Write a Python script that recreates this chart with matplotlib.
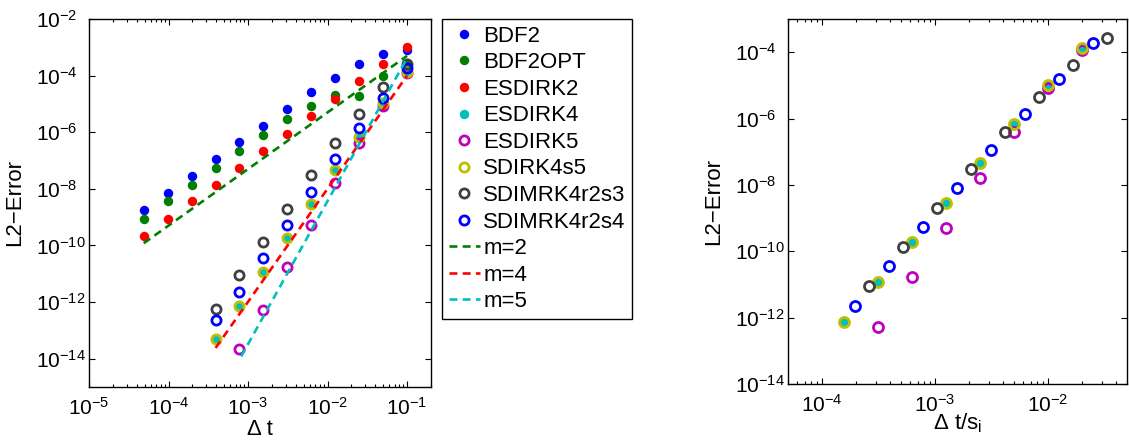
import matplotlib
matplotlib.use('Agg')
import matplotlib.pyplot as plt
from matplotlib.ticker import LogFormatterSciNotation, NullLocator, LogLocator

plt.rcParams['font.family'] = ['Liberation Sans', 'DejaVu Sans']
plt.rcParams['mathtext.fontset'] = 'custom'
plt.rcParams['mathtext.rm'] = 'Liberation Sans'
plt.rcParams['mathtext.it'] = 'Liberation Sans:italic'

# time step sizes (left plot x values)
dt = [4.88e-5, 9.77e-5, 1.95e-4, 3.91e-4, 7.81e-4, 1.56e-3, 3.13e-3,
      6.25e-3, 1.25e-2, 2.5e-2, 5e-2, 1e-1]
dt_4 = dt[3:]   # 4th order methods start at 3.9e-4
dt_5 = dt[4:]   # ESDIRK5 starts at 7.8e-4

bdf2 = [1.85e-9, 7e-9, 2.9e-8, 1.15e-7, 4.6e-7, 1.7e-6, 6.8e-6, 2.6e-5,
        8.5e-5, 2.6e-4, 5.9e-4, 7.8e-4]
bdf2opt = [8.9e-10, 3.6e-9, 1.4e-8, 5.5e-8, 2.1e-7, 8e-7, 2.9e-6, 8.7e-6,
           2.1e-5, 1.85e-5, 9.5e-5, 2.8e-4]
esdirk2 = [2.2e-10, 8.9e-10, 3.6e-9, 1.4e-8, 5.5e-8, 2.2e-7, 8.9e-7, 3.6e-6,
           1.5e-5, 6.3e-5, 2.6e-4, 1e-3]
esdirk4 = [5e-14, 7.7e-13, 1.2e-11, 1.9e-10, 3e-9, 4.8e-8, 7.2e-7, 1.1e-5, 1.4e-4]
sdirk4s5 = [5e-14, 7.5e-13, 1.15e-11, 1.85e-10, 2.9e-9, 4.6e-8, 7e-7, 1.05e-5, 1.3e-4]
esdirk5 = [2.2e-14, 5.3e-13, 1.7e-11, 5.1e-10, 1.6e-8, 4e-7, 8.3e-6, 1.2e-4]
sdimrk3 = [5.7e-13, 9e-12, 1.3e-10, 2e-9, 3e-8, 4e-7, 4.5e-6, 4e-5, 2.6e-4]
sdimrk4 = [2.4e-13, 2.3e-12, 3.6e-11, 5.3e-10, 7.8e-9, 1.1e-7, 1.4e-6, 1.6e-5, 1.9e-4]

# stage counts used for the right plot
stages = {'ESDIRK4': 5, 'ESDIRK5': 5, 'SDIRK4s5': 5,
          'SDIMRK4r2s3': 3, 'SDIMRK4r2s4': 4}

# reference slopes (endpoints)
m2_x = [4.88e-5, 1e-1]
m2_y = [1.2e-10, 5e-4]
m4_x = [3.91e-4, 1e-1]
m4_y = [2.4e-14, 1e-4]
m5_x = [8.2e-4, 1e-1]
m5_y = [1.2e-14, 4.2e-4]

blue = (0, 0, 1)
green = (0, 0.5, 0)
red = (1, 0, 0)
cyan = (0, 0.75, 0.75)
magenta = (0.75, 0, 0.75)
yellow = (0.75, 0.75, 0)
gray = (0.25, 0.25, 0.25)

dot = dict(linestyle='none', marker='o', markersize=6.8, markeredgewidth=0)
ring = dict(linestyle='none', marker='o', markersize=6.6, markeredgewidth=2.0,
            markerfacecolor='none')
ring2 = dict(ring, markersize=7.2)
dash = dict(linewidth=1.9, linestyle=(0, (3, 2)))

fig = plt.figure(figsize=(11.29, 4.45), dpi=100)
ax1 = fig.add_axes([89 / 1129, 1 - 387 / 445, 342 / 1129, 368 / 445])
ax2 = fig.add_axes([788 / 1129, 1 - 384 / 445, 339 / 1129, 365 / 445])
for ax in (ax1, ax2):
    ax.set_xscale('log')
    ax.set_yscale('log')

ax1.plot(dt, bdf2, color=blue, label='BDF2', **dot)
ax1.plot(dt, bdf2opt, color=green, label='BDF2OPT', **dot)
ax1.plot(dt, esdirk2, color=red, label='ESDIRK2', **dot)
ax1.plot(dt_4, esdirk4, color=cyan, label='ESDIRK4', **dot)
ax1.plot(dt_5, esdirk5, color=magenta, label='ESDIRK5', **ring)
ax1.plot(dt_4, sdirk4s5, color=yellow, label='SDIRK4s5', **ring)
ax1.plot(dt_4, sdimrk3, color=gray, label='SDIMRK4r2s3', **ring)
ax1.plot(dt_4, sdimrk4, color=blue, label='SDIMRK4r2s4', **ring)
ax1.plot(m2_x, m2_y, color=green, label='m=2', **dash)
ax1.plot(m4_x, m4_y, color=red, label='m=4', **dash)
ax1.plot(m5_x, m5_y, color=cyan, label='m=5', **dash)

# right plot: step size scaled by number of stages, smallest step dropped
ax2.plot([d / stages['ESDIRK4'] for d in dt_4[1:]], esdirk4[1:], color=cyan, **dot)
ax2.plot([d / stages['ESDIRK5'] for d in dt_5[1:]], esdirk5[1:], color=magenta, **ring2)
ax2.plot([d / stages['SDIRK4s5'] for d in dt_4[1:]], sdirk4s5[1:], color=yellow, **ring2)
ax2.plot([d / stages['SDIMRK4r2s3'] for d in dt_4[1:]], sdimrk3[1:], color=gray, **ring2)
ax2.plot([d / stages['SDIMRK4r2s4'] for d in dt_4[1:]], sdimrk4[1:], color=blue, **ring2)

ax1.set_xlim(1e-5, 2e-1)
ax1.set_ylim(1e-15, 1e-2)
ax1.set_xticks([1e-5, 1e-4, 1e-3, 1e-2, 1e-1])
ax1.set_yticks([1e-14, 1e-12, 1e-10, 1e-8, 1e-6, 1e-4, 1e-2])
ax1.set_xlabel('\u0394 t', fontsize=16, labelpad=0)

ax2.set_xlim(5e-5, 5e-2)
ax2.set_ylim(1e-14, 1e-3)
ax2.set_xticks([1e-4, 1e-3, 1e-2])
ax2.set_yticks([1e-14, 1e-12, 1e-10, 1e-8, 1e-6, 1e-4])
ax2.set_xlabel('\u0394 t/s$_{\\mathregular{i}}$', fontsize=16, labelpad=-3)

for ax in (ax1, ax2):
    ax.yaxis.set_minor_locator(NullLocator())
    ax.xaxis.set_minor_locator(LogLocator(subs=range(2, 10), numticks=20))
    ax.xaxis.set_major_formatter(LogFormatterSciNotation())
    ax.yaxis.set_major_formatter(LogFormatterSciNotation())
    ax.tick_params(which='both', direction='in', top=True, right=True,
                   labelsize=15, width=0.8)
    ax.tick_params(which='major', length=4)
    ax.tick_params(axis='x', which='major', pad=7)
    ax.tick_params(axis='y', which='major', pad=38)
    ax.tick_params(which='minor', length=2)
    plt.setp(ax.get_yticklabels(), ha='left')
    for s in ax.spines.values():
        s.set_linewidth(1.0)
    ax.set_ylabel('L2\u2212Error', fontsize=16)
    ax.yaxis.set_label_coords(-0.187, 0.5)

leg = ax1.legend(loc='upper left', bbox_to_anchor=(442 / 1129, 1 - 19 / 445),
                 bbox_transform=fig.transFigure, borderaxespad=0,
                 fontsize=16, handlelength=1.4, handletextpad=0.15,
                 labelspacing=0.25, borderpad=0.3, fancybox=False,
                 edgecolor='black', framealpha=1)
leg.get_frame().set_linewidth(1.0)

fig.savefig('out.png', dpi=100)
